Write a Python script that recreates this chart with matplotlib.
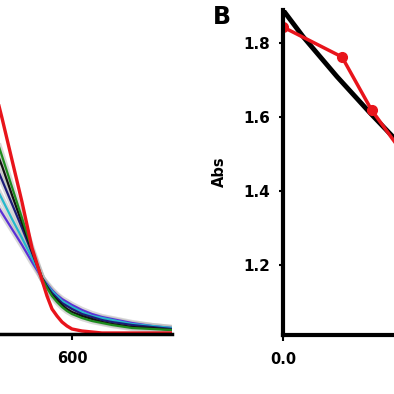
import numpy as np
from matplotlib import pyplot as plt

# left panel: spectra (wavelength in nm, absorbance)
wavelength = [500, 510, 520, 530, 540, 550, 560, 570, 575, 580, 585, 590, 595, 600,
              610, 620, 630, 640, 660, 680, 700]
spec_red = [1.344, 1.184, 1.024, 0.864, 0.696, 0.528, 0.344, 0.216, 0.152, 0.100, 0.072,
            0.048, 0.032, 0.020, 0.012, 0.008, 0.004, 0.004, 0.004, 0.004, 0.004]
spec_green = [1.076, 0.956, 0.836, 0.712, 0.588, 0.464, 0.340, 0.224, 0.184, 0.152, 0.128,
              0.108, 0.092, 0.080, 0.064, 0.052, 0.044, 0.036, 0.024, 0.020, 0.016]
spec_black = [1.016, 0.896, 0.776, 0.672, 0.556, 0.444, 0.332, 0.224, 0.188, 0.156, 0.136,
              0.116, 0.100, 0.088, 0.072, 0.060, 0.048, 0.040, 0.028, 0.024, 0.016]
spec_navy = [0.904, 0.808, 0.712, 0.616, 0.520, 0.424, 0.324, 0.224, 0.192, 0.164, 0.144,
             0.124, 0.112, 0.100, 0.080, 0.068, 0.056, 0.048, 0.036, 0.028, 0.020]
spec_cyan = [0.776, 0.700, 0.620, 0.540, 0.460, 0.384, 0.304, 0.224, 0.196, 0.172, 0.152,
             0.132, 0.120, 0.108, 0.088, 0.072, 0.064, 0.056, 0.040, 0.032, 0.024]
spec_blue = [0.676, 0.612, 0.548, 0.484, 0.420, 0.356, 0.288, 0.224, 0.200, 0.176, 0.156,
             0.140, 0.128, 0.116, 0.096, 0.080, 0.068, 0.060, 0.044, 0.032, 0.024]
spec_xticks = [600]

# right panel (B): absorbance vs x
fit_x = [0.0, 0.068, 0.183, 0.295, 0.373, 0.5, 0.7, 1.0]
fit_y = [1.89, 1.818, 1.71, 1.612, 1.547, 1.45, 1.32, 1.16]
data_x = [0.0, 0.2, 0.3, 0.4, 0.5]
data_y = [1.844, 1.763, 1.62, 1.51, 1.43]
b_yticks = [1.2, 1.4, 1.6, 1.8]
b_xticks = [0.0]

W = 394.0
fig = plt.figure(figsize=(3.94, 3.94), dpi=100)

# ---- left panel (mostly off canvas) ----
ax1 = fig.add_axes([-178 / W, 60 / W, 350 / W, 400 / W])
others = [(spec_blue, '#5b2fd6'), (spec_cyan, '#25b8cc'), (spec_navy, '#1c1c7a'),
          (spec_black, '#111111'), (spec_green, '#1e8c1e')]
for y, c in others:
    ax1.plot(wavelength, y, color='#b8b8b8', lw=4.5, alpha=0.55, solid_joinstyle='round')
for y, c in others:
    ax1.plot(wavelength, y, color=c, lw=1.6, solid_joinstyle='round')
ax1.plot(wavelength, spec_red, color='#e8141b', lw=2.4, solid_joinstyle='round')
ax1.set_xlim(350, 700)
ax1.set_ylim(0, 1.6)
ax1.set_xticks(spec_xticks)
ax1.set_yticks([])
for s in ['top', 'right', 'left']:
    ax1.spines[s].set_visible(False)
ax1.spines['bottom'].set_linewidth(2.5)
ax1.tick_params(axis='x', length=4.5, width=1.5, pad=8, labelsize=10.5)
for lab in ax1.get_xticklabels():
    lab.set_fontweight('bold')

# ---- right panel B ----
ax2 = fig.add_axes([283 / W, 59 / W, 295 / W, 325 / W])
ax2.plot(fit_x, fit_y, color='black', lw=3.5)
ax2.plot(data_x, data_y, color='#e8141b', lw=2.5, marker='o', ms=7)
ax2.set_xlim(0, 1.0)
ax2.set_ylim(1.0116, 1.89)
ax2.set_yticks(b_yticks)
ax2.set_xticks(b_xticks)
ax2.set_xticklabels(['%.1f' % v for v in b_xticks])
for s in ['top', 'right']:
    ax2.spines[s].set_visible(False)
for s in ['left', 'bottom']:
    ax2.spines[s].set_linewidth(3)
ax2.tick_params(axis='y', length=3, width=1.5, pad=6, labelsize=11)
ax2.tick_params(axis='x', length=4.5, width=1.5, pad=8, labelsize=10.5)
for lab in ax2.get_xticklabels() + ax2.get_yticklabels():
    lab.set_fontweight('bold')

fig.text(219 / W, 1 - 172 / W, 'Abs', rotation=90, ha='center', va='center',
         fontsize=10.5, fontweight='bold')
fig.text(222 / W, 1 - 16.5 / W, 'B', ha='center', va='center',
         fontsize=17, fontweight='bold')

fig.savefig('out.png', dpi=100)
